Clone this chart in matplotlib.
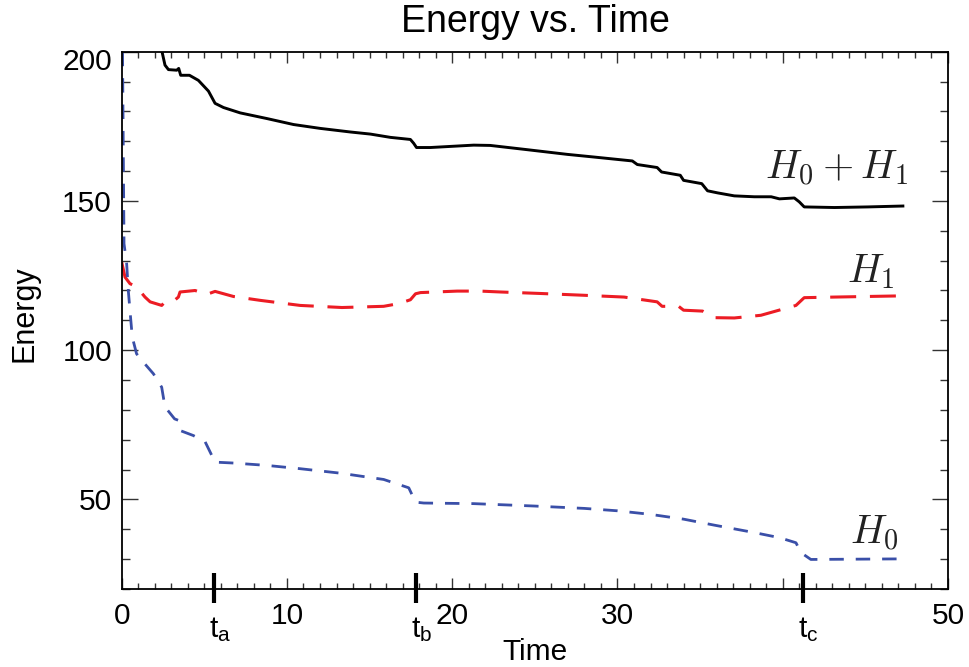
import matplotlib
matplotlib.use("Agg")
import matplotlib.pyplot as plt
import matplotlib.transforms as mtransforms
from matplotlib.ticker import MultipleLocator, FixedLocator, FixedFormatter

plt.rcParams['font.family'] = ['Liberation Sans', 'DejaVu Sans']
plt.rcParams['mathtext.fontset'] = 'custom'
plt.rcParams['mathtext.rm'] = 'Liberation Sans'
plt.rcParams['mathtext.it'] = 'Liberation Sans:italic'
plt.rcParams['mathtext.bf'] = 'Liberation Sans:bold'

# ---- data -------------------------------------------------------------
t_total = [0, 1.0, 2.0, 2.42, 2.62, 2.83, 3.33, 3.45, 3.57, 4.1, 4.64, 5.25,
           5.65, 6.16, 7.17, 8.79, 10.4, 12.02, 13.84, 15.05, 16.26, 17.47,
           17.67, 17.84, 18.68, 21.3, 22.3, 24.5, 26.97, 28.6, 30.9, 31.2,
           32.4, 32.67, 33.8, 34.0, 35.1, 35.45, 36.06, 37.07, 38.28, 39.3,
           39.8, 40.7, 41.0, 41.3, 43.13, 45.15, 47.27]
e_total = [330, 250, 212, 200.5, 195.5, 194.0, 193.8, 194.4, 192.1, 192.1,
           190.4, 186.8, 182.7, 181.3, 179.5, 177.6, 175.6, 174.3, 173.1,
           172.4, 171.3, 170.6, 169.3, 167.9, 167.9, 168.7, 168.6, 167.2,
           165.6, 164.7, 163.4, 162.2, 161.2, 159.7, 158.6, 156.9, 155.8,
           153.4, 152.7, 151.7, 151.4, 151.4, 150.7, 151.0, 149.7, 148.0,
           147.8, 148.0, 148.3]

t_h1 = [0, 0.2, 0.5, 0.9, 1.41, 1.72, 2.42, 2.62, 3.13, 3.43, 3.53, 4.44,
        5.15, 5.65, 6.76, 8.38, 10.8, 13.33, 15.85, 16.76, 17.47, 17.78,
        18.08, 20.3, 21.7, 22.93, 25.35, 27.97, 30.4, 32.4, 32.7, 33.7,
        34.0, 35.15, 35.85, 37.07, 38.68, 39.9, 40.8, 41.3, 43.13, 47.17]
e_h1 = [129.5, 124.5, 122.3, 121.2, 117.8, 116.2, 115.0, 116.2, 116.4, 117.8,
        119.5, 120.0, 118.7, 119.7, 118.0, 116.7, 115.0, 114.3, 114.7, 115.6,
        116.9, 118.9, 119.3, 119.8, 119.8, 119.5, 119.0, 118.4, 117.8, 116.2,
        114.7, 114.7, 113.4, 113.1, 110.9, 110.8, 111.7, 113.6, 115.0, 117.6,
        117.8, 118.2]

t_h0 = [0, 0.05, 0.14, 0.3, 0.4, 0.5, 0.64, 0.9, 1.31, 1.92, 2.42, 2.62,
        3.2, 3.43, 3.53, 4.34, 5.05, 5.35, 5.65, 6.76, 8.79, 10.8, 13.23,
        15.85, 17.37, 17.78, 18.28, 21.3, 24.95, 28.0, 30.0, 32.0, 34.0,
        35.85, 38.28, 39.8, 40.8, 41.1, 41.7, 47.4]
e_h0 = [260, 200, 135.7, 129.0, 120.0, 113.3, 104.4, 98.8, 96.0, 92.1, 87.6,
        81.0, 77.0, 76.5, 73.1, 71.4, 69.3, 65.9, 62.5, 62.2, 61.4, 60.3,
        58.8, 56.7, 53.9, 49.1, 48.8, 48.6, 47.8, 47.0, 46.2, 45.0, 43.4,
        41.4, 38.9, 37.2, 35.5, 32.2, 29.9, 30.1]

x_ticks = [0, 10, 20, 30, 40, 50]
x_tick_labels = ['0', '10', '20', '30', '', '50']
y_ticks = [50, 100, 150, 200]
y_tick_labels = ['50', '100', '150', '200']

t_marks = [5.6, 17.78, 41.2]
t_mark_labels = [r'$\mathrm{t}_\mathrm{a}$', r'$\mathrm{t}_\mathrm{b}$',
                 r'$\mathrm{t}_\mathrm{c}$']

curve_labels = [r'$H_0 + H_1$', r'$H_1$', r'$H_0$']
curve_label_pos = [(47.6, 157.6), (46.75, 122.8), (47.0, 35.2)]

# ---- figure -----------------------------------------------------------
fig = plt.figure(figsize=(9.69, 6.67), dpi=100)
ax = fig.add_axes([0.12559, 0.11694, 0.85273, 0.80555])

ax.plot(t_total, e_total, color='black', lw=2.1, solid_joinstyle='round')
ax.plot(t_h1, e_h1, color='#ec1c24', lw=2.2, dashes=(8.5, 4.5))
ax.plot(t_h0, e_h0, color='#3a4fa8', lw=2.0, dashes=(5.2, 4.3))

ax.set_xlim(0, 50)
ax.set_ylim(20, 200)

ax.xaxis.set_major_locator(FixedLocator(x_ticks))
ax.xaxis.set_major_formatter(FixedFormatter(x_tick_labels))
ax.xaxis.set_minor_locator(MultipleLocator(1))
ax.yaxis.set_major_locator(FixedLocator(y_ticks))
ax.yaxis.set_major_formatter(FixedFormatter(y_tick_labels))
ax.yaxis.set_minor_locator(MultipleLocator(10))

ax.tick_params(axis='x', which='major', direction='in', length=8, width=1,
               top=True, bottom=True, labelsize=21.5, pad=9.5, color='#333333')
ax.tick_params(axis='x', which='minor', direction='in', length=4, width=1,
               top=True, bottom=True, color='#333333')
ax.tick_params(axis='y', which='major', direction='in', length=11.5, width=1,
               left=True, right=True, labelsize=21.5, pad=7, color='#333333')
ax.tick_params(axis='y', which='minor', direction='in', length=5.8, width=1,
               left=True, right=True, color='#333333')
for sp in ax.spines.values():
    sp.set_linewidth(1.3)
    sp.set_color('black')

# keep the top y label inside the frame height
top_lbl = ax.get_yticklabels()[-1]
top_lbl.set_transform(top_lbl.get_transform() +
                      mtransforms.ScaledTranslation(0, -0.07, fig.dpi_scale_trans))

# event markers on the time axis
blend = mtransforms.blended_transform_factory(ax.transData, ax.transAxes)
for t, lab in zip(t_marks, t_mark_labels):
    ax.plot([t, t], [0.030, -0.026], transform=blend, color='black', lw=3,
            solid_capstyle='butt', clip_on=False)
    ax.annotate(lab, xy=(t, 0), xycoords=blend, xytext=(-3.5, -34.5),
                textcoords='offset points', ha='left', va='baseline',
                fontsize=21.5, math_fontfamily='custom')

for lab, (x, y) in zip(curve_labels, curve_label_pos):
    ax.text(x, y, lab, ha='right', va='baseline', fontsize=29,
            math_fontfamily='cm', color='#222222')

fig.text(535 / 969, 1 - 32 / 667, 'Energy vs. Time', ha='center',
         va='baseline', fontsize=27)
fig.text(535 / 969, 1 - 660 / 667, 'Time', ha='center', va='baseline',
         fontsize=21.5)
fig.text(24 / 969, 1 - 314 / 667, 'Energy', ha='center', va='center',
         rotation=90, fontsize=22)

fig.savefig('out.png', dpi=100)
